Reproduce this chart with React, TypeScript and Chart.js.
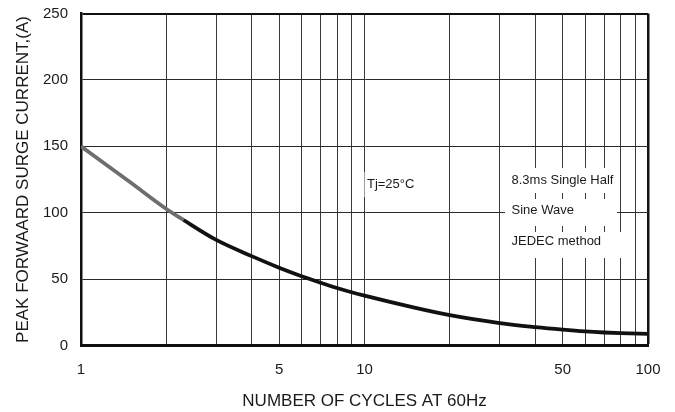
import React, { useEffect, useRef } from 'react';
import { Chart, registerables } from 'chart.js';

Chart.register(...registerables);

// ---- data ----
const CYCLES = [1, 1.5, 2, 2.3, 3, 4, 5, 6, 7, 8, 9, 10, 15, 20, 30, 40, 50, 60, 70, 80, 100];
const CURRENT = [150, 122.5, 102.8, 94.5, 79.5, 67.3, 58.6, 52.2, 47.3, 43.3, 40.1, 37.5, 28.5, 22.8, 16.8, 13.8, 11.9, 10.6, 9.8, 9.3, 8.8];

const X_GRID = [1, 2, 3, 4, 5, 6, 7, 8, 9, 10, 20, 30, 40, 50, 60, 70, 80, 90, 100];
const X_LABELS = [1, 5, 10, 50, 100];
const Y_MIN = 0;
const Y_MAX = 250;
const Y_STEP = 50;

const X_TITLE = 'NUMBER OF CYCLES AT 60Hz';
const Y_TITLE = 'PEAK FORWAARD SURGE CURRENT,(A)';

// annotations (data coordinates)
const NOTE_TEXT = ['Tj=25°C', '8.3ms Single Half', 'Sine Wave', 'JEDEC method'];
const NOTE_X = [10.2, 33, 33, 33];
const NOTE_Y = [121.6, 124.6, 102, 78.7];
// white boxes behind notes: [x0, x1, yTop, yBottom]
const NOTE_BOX_X0 = [10, 31.3, 31.3, 31.3];
const NOTE_BOX_X1 = [15, 77.8, 77.8, 80.5];
const NOTE_BOX_Y0 = [130.6, 133.7, 110.3, 85.5];
const NOTE_BOX_Y1 = [111.8, 114.8, 90, 65.9];

const FONT = '"Liberation Sans", Arial, Helvetica, sans-serif';

const notesPlugin = {
  id: 'notes',
  afterDatasetsDraw(chart: any) {
    const { ctx, scales } = chart;
    const x = scales.x;
    const y = scales.y;
    ctx.save();
    ctx.fillStyle = '#ffffff';
    for (let i = 0; i < NOTE_BOX_X0.length; i++) {
      const px0 = x.getPixelForValue(NOTE_BOX_X0[i]);
      const px1 = x.getPixelForValue(NOTE_BOX_X1[i]);
      const py0 = y.getPixelForValue(NOTE_BOX_Y0[i]);
      const py1 = y.getPixelForValue(NOTE_BOX_Y1[i]);
      ctx.fillRect(px0, py0, px1 - px0, py1 - py0);
    }
    ctx.fillStyle = '#1a1a1a';
    ctx.font = `13px ${FONT}`;
    ctx.textAlign = 'left';
    ctx.textBaseline = 'middle';
    for (let i = 0; i < NOTE_TEXT.length; i++) {
      ctx.fillText(NOTE_TEXT[i], x.getPixelForValue(NOTE_X[i]), y.getPixelForValue(NOTE_Y[i]));
    }
    ctx.restore();
  },
};

export default function App() {
  const canvasRef = useRef<HTMLCanvasElement | null>(null);

  useEffect(() => {
    document.body.style.margin = '0';
    const canvas = canvasRef.current;
    if (!canvas) return;
    const points = CYCLES.map((c, i) => ({ x: c, y: CURRENT[i] }));
    const chart = new Chart(canvas, {
      type: 'line',
      data: {
        datasets: [
          {
            data: points,
            borderColor: '#111111',
            borderWidth: 3.8,
            pointRadius: 0,
            cubicInterpolationMode: 'monotone',
            fill: false,
            segment: {
              borderColor: (c: any) => (c.p1.parsed.x <= 2.3 ? '#6e6e6e' : '#111111'),
            },
          },
        ],
      },
      options: {
        animation: false,
        responsive: true,
        maintainAspectRatio: false,
        layout: { padding: { top: 13.5, right: 27, left: 0, bottom: 0 } },
        plugins: {
          legend: { display: false },
          tooltip: { enabled: false },
          title: { display: false },
        },
        scales: {
          x: {
            type: 'logarithmic',
            min: 1,
            max: 100,
            afterBuildTicks: (scale: any) => {
              scale.ticks = X_GRID.map((v) => ({ value: v }));
            },
            afterFit: (scale: any) => {
              scale.height = 66.5;
            },
            ticks: {
              autoSkip: false,
              maxRotation: 0,
              minRotation: 0,
              padding: 0,
              color: '#1a1a1a',
              font: { family: FONT, size: 15 },
              callback: (v: any) => (X_LABELS.includes(Number(v)) ? String(v) : ''),
            },
            grid: {
              drawTicks: true,
              tickLength: 15,
              tickColor: 'rgba(0,0,0,0)',
              color: (c: any) => (c.tick && c.tick.value === 100 ? '#111111' : '#3a3a3a'),
              lineWidth: (c: any) => (c.tick && c.tick.value === 100 ? 2.5 : 1),
            },
            border: { display: true, color: '#111111', width: 3 },
            title: {
              display: true,
              text: X_TITLE,
              color: '#1a1a1a',
              font: { family: FONT, size: 17 },
              padding: { top: 0, bottom: 0 },
            },
          },
          y: {
            type: 'linear',
            min: Y_MIN,
            max: Y_MAX,
            afterFit: (scale: any) => {
              scale.width = 81;
            },
            ticks: {
              stepSize: Y_STEP,
              padding: 0,
              color: '#1a1a1a',
              font: { family: FONT, size: 15 },
            },
            grid: {
              drawTicks: true,
              tickLength: 13,
              tickColor: 'rgba(0,0,0,0)',
              color: (c: any) => (c.tick && c.tick.value === Y_MAX ? '#111111' : '#2a2a2a'),
              lineWidth: (c: any) => (c.tick && c.tick.value === Y_MAX ? 2 : 1),
            },
            border: { display: true, color: '#111111', width: 2.5 },
            title: {
              display: true,
              text: Y_TITLE,
              color: '#1a1a1a',
              font: { family: FONT, size: 17 },
              padding: { top: 13, bottom: 0 },
            },
          },
        },
      },
      plugins: [notesPlugin],
    } as any);
    return () => chart.destroy();
  }, []);

  return (
    <div style={{ position: 'relative', width: 675, height: 412, background: '#ffffff' }}>
      <canvas ref={canvasRef} />
    </div>
  );
}
